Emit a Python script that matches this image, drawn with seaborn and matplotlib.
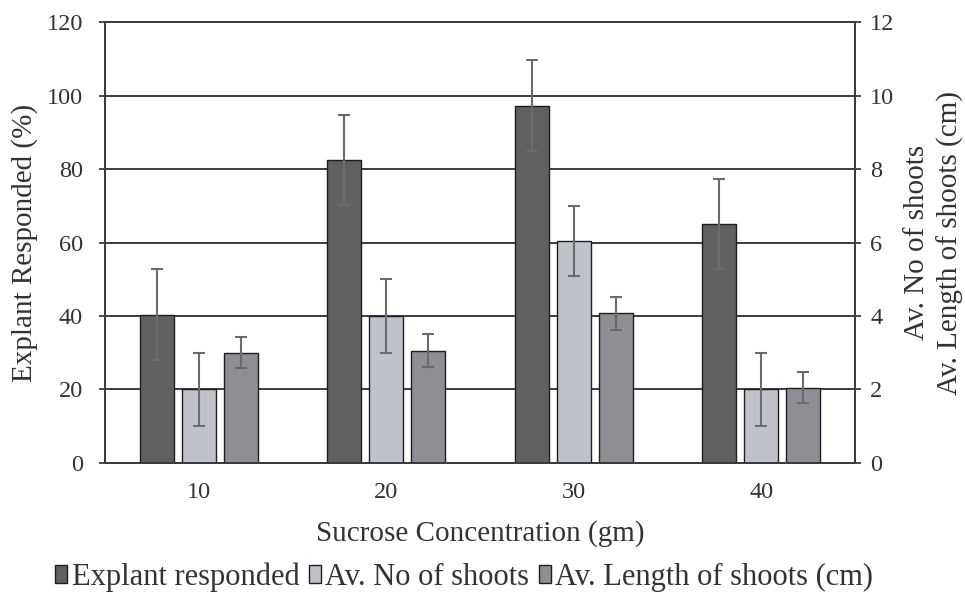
import numpy as np
import pandas as pd
import matplotlib
matplotlib.use("Agg")
import matplotlib.pyplot as plt
from matplotlib.patches import Patch
import seaborn as sns

# ---- data ----
concentrations = ["10", "20", "30", "40"]
series_names = ["Explant responded", "Av. No of shoots", "Av. Length of shoots (cm)"]
explant_responded = [40.3, 82.5, 97.2, 65.0]
explant_err = [12.4, 12.3, 12.4, 12.3]
av_no_shoots = [2.0, 4.0, 6.05, 2.0]
av_no_shoots_err = [1.0, 1.0, 0.95, 1.0]
av_length_shoots = [3.0, 3.05, 4.08, 2.05]
av_length_err = [0.42, 0.45, 0.45, 0.42]
left_ticks = [0, 20, 40, 60, 80, 100, 120]
right_ticks = [0, 2, 4, 6, 8, 10, 12]
colors = ["#606060", "#bfc1ca", "#8c8f95"]

sns.set_theme(style="white")
plt.rcParams["font.family"] = ["Liberation Serif", "DejaVu Serif"]

df_left = pd.DataFrame({"conc": concentrations, "value": explant_responded,
                        "series": series_names[0]})
df_right = pd.concat([
    pd.DataFrame({"conc": concentrations, "value": av_no_shoots, "series": series_names[1]}),
    pd.DataFrame({"conc": concentrations, "value": av_length_shoots, "series": series_names[2]}),
], ignore_index=True)

palette = dict(zip(series_names, colors))
line_col = "#3c3c3c"
text_col = "#333333"

fig, ax = plt.subplots(figsize=(9.65, 5.98), dpi=100)
fig.subplots_adjust(left=0.1088, right=0.886, top=0.963, bottom=0.2258)
ax2 = ax.twinx()

common = dict(x="conc", y="value", hue="series", hue_order=series_names,
              order=concentrations, palette=palette, width=0.672, gap=0.2,
              dodge=True, errorbar=None, edgecolor="#1e1e1e", linewidth=1.0,
              legend=False)
sns.barplot(data=df_left, ax=ax, **common)
sns.barplot(data=df_right, ax=ax2, **common)

# error bars at the bar centres seaborn produced
def centres(axis):
    ps = sorted(axis.patches, key=lambda p: p.get_x())
    return [p.get_x() + p.get_width() / 2 for p in ps], [p.get_height() for p in ps]

ex_x, ex_h = centres(ax)
ax.errorbar(ex_x, ex_h, yerr=explant_err, fmt="none", ecolor="#6b6b6b",
            elinewidth=1.5, capsize=4.5, capthick=1.5, zorder=3)
r_x, r_h = centres(ax2)
r_err = []
for a, b in zip(av_no_shoots_err, av_length_err):
    r_err += [a, b]
ax2.errorbar(r_x, r_h, yerr=r_err, fmt="none", ecolor="#6b6b6b",
             elinewidth=1.5, capsize=4.5, capthick=1.5, zorder=3)

ax.set_ylim(0, 120)
ax2.set_ylim(0, 12)
ax.set_yticks(left_ticks)
ax2.set_yticks(right_ticks)
ax.set_xlim(-0.5, 3.5)

ax.set_axisbelow(True)
ax.yaxis.grid(True, color=line_col, linewidth=1.4)
ax2.grid(False)
for a in (ax, ax2):
    for s in a.spines.values():
        s.set_color(line_col)
        s.set_linewidth(1.4)

ax.set_xticks(range(len(concentrations)))
ax.set_xticklabels(concentrations)
ax.set_xticks([-0.5, 0.5, 1.5, 2.5, 3.5], minor=True)
ax.tick_params(axis="x", which="major", length=0, pad=14, labelsize=17.5, labelcolor=text_col)
ax.tick_params(axis="x", which="minor", length=5, width=1.3, color=line_col, direction="out")
ax.tick_params(axis="y", length=4, width=1.3, color=line_col, direction="out",
               labelsize=17.5, labelcolor=text_col, pad=12)
ax2.tick_params(axis="y", length=4, width=1.3, color=line_col, direction="out",
                labelsize=17.5, labelcolor=text_col, pad=7)

ax.set_xlabel("Sucrose Concentration (gm)", fontsize=21, color=text_col, labelpad=12)
ax.set_ylabel("Explant Responded (%)", fontsize=21, color=text_col, labelpad=6)
ax2.set_ylabel("Av. No of shoots\nAv. Length of shoots (cm)", fontsize=21,
               color=text_col, labelpad=7, linespacing=1.3)

handles = [Patch(facecolor=c, edgecolor="#1e1e1e", linewidth=1.0) for c in colors]
fig.legend(handles, series_names, loc="center", bbox_to_anchor=(0.481, 1 - 577 / 598),
           ncol=3, frameon=False, fontsize=22, handlelength=0.4, handleheight=0.5,
           handletextpad=0.15, columnspacing=0.3, labelcolor=text_col)

fig.savefig("out.png", dpi=100, facecolor="white")
